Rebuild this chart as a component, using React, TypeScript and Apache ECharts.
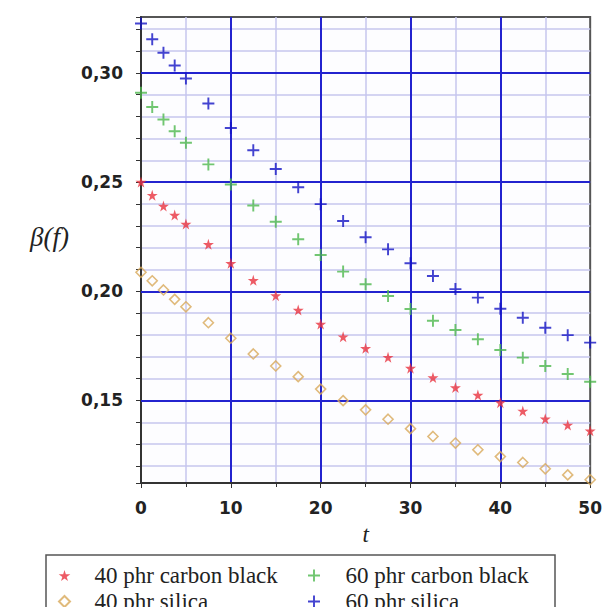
import React, { useEffect, useRef } from "react";
import * as echarts from "echarts";

const tValues = [0, 1.25, 2.5, 3.75, 5, 7.5, 10, 12.5, 15, 17.5, 20, 22.5, 25, 27.5, 30, 32.5, 35, 37.5, 40, 42.5, 45, 47.5, 50];

const cb40 = [0.2500, 0.2440, 0.2390, 0.2349, 0.2308, 0.2215, 0.2128, 0.2050, 0.1980, 0.1914, 0.1850, 0.1792, 0.1739, 0.1698, 0.1648, 0.1605, 0.1559, 0.1525, 0.1490, 0.1452, 0.1416, 0.1388, 0.1361];
const cb60 = [0.2909, 0.2844, 0.2787, 0.2733, 0.2680, 0.2581, 0.2489, 0.2393, 0.2318, 0.2238, 0.2166, 0.2090, 0.2032, 0.1978, 0.1919, 0.1865, 0.1823, 0.1780, 0.1731, 0.1696, 0.1658, 0.1621, 0.1586];
const si40 = [0.2087, 0.2048, 0.2006, 0.1963, 0.1929, 0.1856, 0.1785, 0.1713, 0.1658, 0.1609, 0.1552, 0.1499, 0.1457, 0.1414, 0.1371, 0.1335, 0.1305, 0.1274, 0.1243, 0.1216, 0.1187, 0.1159, 0.1137];
const si60 = [0.3226, 0.3154, 0.3092, 0.3034, 0.2974, 0.2860, 0.2748, 0.2646, 0.2560, 0.2476, 0.2399, 0.2322, 0.2247, 0.2192, 0.2128, 0.2070, 0.2010, 0.1971, 0.1920, 0.1879, 0.1833, 0.1799, 0.1765];

const seriesNames = ["40 phr carbon black", "40 phr silica", "60 phr carbon black", "60 phr silica"];
const yMajorLines = [0.15, 0.2, 0.25, 0.3];
const yMin = 0.1122;
const yMax = 0.3256;
const xMin = 0;
const xMax = 50;

const PLUS = "path://M4.2,0H5.8V4.2H10V5.8H5.8V10H4.2V5.8H0V4.2H4.2Z";
const STAR = "path://M50,0L61,35L98,35L68,57L79,91L50,70L21,91L32,57L2,35L39,35Z";
const DIAMOND = "path://M5,0L10,5L5,10L0,5Z";

const pair = (ys: number[]) => ys.map((y, i) => [tValues[i], y]);

export default function App() {
  const ref = useRef<HTMLDivElement>(null);
  useEffect(() => {
    if (!ref.current) return;
    const chart = echarts.init(ref.current, null, { renderer: "svg" });
    const labelFont = { fontFamily: "DejaVu Sans", fontWeight: "bold" as const, fontSize: 17, color: "#222" };
    const legendText = { fontFamily: "Liberation Serif", fontSize: 23, lineHeight: 22, color: "#222" };
    chart.setOption({
      animation: false,
      backgroundColor: "#ffffff",
      grid: {
        left: 141,
        right: 10,
        top: 17,
        bottom: 124,
        show: true,
        backgroundColor: "#fdfdff",
        borderColor: "#555",
        borderWidth: 2,
      },
      xAxis: {
        type: "value",
        min: xMin,
        max: xMax,
        interval: 10,
        name: "t",
        nameLocation: "middle",
        nameGap: 40,
        nameTextStyle: { fontFamily: "Liberation Serif", fontStyle: "italic", fontSize: 23, color: "#222" },
        axisLine: { lineStyle: { color: "#333", width: 2 } },
        axisTick: { length: 5, lineStyle: { color: "#333", width: 1 } },
        minorTick: { show: true, splitNumber: 2, length: 4, lineStyle: { color: "#333" } },
        axisLabel: { ...labelFont, margin: 16 },
        splitLine: { show: true, showMinLine: false, showMaxLine: false, lineStyle: { color: "#2323cf", width: 2 } },
        minorSplitLine: { show: true, lineStyle: { color: "#c6c6ee", width: 1.5 } },
      },
      yAxis: {
        type: "value",
        min: yMin,
        max: yMax,
        splitNumber: 21,
        name: "β(f)",
        nameLocation: "middle",
        nameRotate: 0,
        nameGap: 72,
        nameTextStyle: { fontFamily: "Liberation Serif", fontStyle: "italic", fontSize: 27, color: "#222", verticalAlign: "bottom" },
        axisLine: { lineStyle: { color: "#333", width: 2 } },
        axisTick: { length: 5, lineStyle: { color: "#333", width: 1 } },
        axisLabel: {
          ...labelFont,
          margin: 18,
          formatter: (v: number) => {
            const k = v * 20;
            return Math.abs(k - Math.round(k)) < 1e-6 ? v.toFixed(2).replace(".", ",") : "";
          },
        },
        splitLine: { show: true, showMinLine: false, showMaxLine: false, lineStyle: { color: "#c6c6ee", width: 1.5 } },
      },
      legend: [
        {
          orient: "vertical",
          left: 58,
          top: 564,
          height: 60,
          itemWidth: 50,
          itemHeight: 11,
          itemGap: 3,
          padding: 0,
          textStyle: legendText,
          data: [seriesNames[0], seriesNames[1]],
        },
        {
          orient: "vertical",
          left: 308,
          top: 564,
          height: 60,
          itemWidth: 53,
          itemHeight: 12,
          itemGap: 3,
          padding: 0,
          textStyle: legendText,
          data: [seriesNames[2], seriesNames[3]],
        },
      ],
      graphic: [
        {
          type: "rect",
          shape: { x: 46, y: 555, width: 509, height: 70 },
          style: { fill: "none", stroke: "#555", lineWidth: 1.5 },
          silent: true,
        },
      ],
      series: [
        {
          name: "majors",
          type: "scatter",
          data: [],
          z: 1,
          markLine: {
            silent: true,
            symbol: "none",
            z: 1,
            label: { show: false },
            lineStyle: { color: "#2323cf", width: 2, type: "solid" },
            data: yMajorLines.map((y) => ({ yAxis: y })),
          },
        },
        {
          name: seriesNames[0],
          type: "scatter",
          symbol: STAR,
          symbolSize: 11,
          itemStyle: { color: "#e8323e" },
          data: pair(cb40),
        },
        {
          name: seriesNames[1],
          type: "scatter",
          symbol: DIAMOND,
          symbolSize: 10,
          itemStyle: { color: "rgba(255,255,255,0)", borderColor: "#d8a95a", borderWidth: 1.6 },
          data: pair(si40),
        },
        {
          name: seriesNames[2],
          type: "scatter",
          symbol: PLUS,
          symbolSize: 12,
          itemStyle: { color: "#4db84d" },
          data: pair(cb60),
        },
        {
          name: seriesNames[3],
          type: "scatter",
          symbol: PLUS,
          symbolSize: 12,
          itemStyle: { color: "#1414c4" },
          data: pair(si60),
        },
      ],
    });
    return () => chart.dispose();
  }, []);
  return <div ref={ref} style={{ position: "fixed", left: 0, top: 0, width: 605, height: 607 }} />;
}
